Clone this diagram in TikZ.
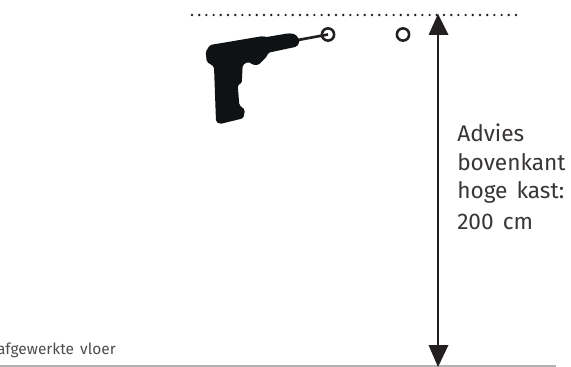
\documentclass[tikz,border=0pt]{standalone}
\usepackage{fontspec}
\setmainfont{Fira Sans}[WordSpace=1.5]
\definecolor{ink}{HTML}{231F20}
\definecolor{drill}{HTML}{0E1214}
\tikzset{
  hole/.style={circle,draw=ink,line width=1.9pt,minimum size=9.2pt,inner sep=0pt,fill=none},
  lab/.style={anchor=base west,inner sep=0pt,font=\fontsize{17pt}{20pt}\selectfont,text=ink!90},
}
\begin{document}
\begin{tikzpicture}[x=0.75pt,y=-0.75pt]
\useasboundingbox (0,0) rectangle (571,367);
\clip (0,0) rectangle (571,367);
% dotted top line
\coordinate (dl) at (192,15);
\coordinate (dr) at (517,15);
\draw[ink,line width=2pt,line cap=round,dash pattern=on 0pt off 5.4pt] (dl) -- (dr);
% floor
\coordinate (fl) at (0,366);
\coordinate (fr) at (556,366);
\draw[black!30,line width=0.8pt] (fl) -- (fr);
% holes
\node[hole] (h1) at (328,34.5) {};
\node[hole] (h2) at (403,34.5) {};
% drill bit
\coordinate (chuck) at (298,40);
\draw[ink,line width=2pt] (chuck) -- (h1.center);
% drill body
\fill[drill,rounded corners=1.2pt]
 (205.7,51.7) -- (210,45) -- (263.3,36) -- (265,37.3) -- (288.3,33.3) -- (295,34)
 -- (299.3,39.3) -- (299.3,42.7) -- (296.7,46.7) -- (268.3,52.7) -- (266.7,56.7)
 -- (258.3,65) -- (253.3,65) -- (248.3,61.7) -- (242.7,65) -- (241.7,83.3)
 -- (237.7,85) -- (239.3,105) -- (245,110) -- (243.3,118.3) -- (220,124)
 -- (216,121.7) -- (214,66.7) -- (206.7,61.7) -- cycle;
% arrow
\coordinate (at) at (438,14);
\coordinate (ab) at (438,367);
\coordinate (as) at (438,34);
\coordinate (ae) at (438,346);
\draw[ink,line width=2pt] (as) -- (ae);
\fill[ink] (at) -- (448.5,35) -- (428.5,35) -- cycle;
\fill[ink] (ab) -- (448.5,345) -- (428.5,345) -- cycle;
% labels
\node[lab] (t1) at (457,142) {Advies};
\node[lab] (t2) at (457,171) {bovenkant};
\node[lab] (t3) at (457,199) {hoge kast:};
\node[lab] (t4) at (457,229) {200 cm};
\node[anchor=base east,inner sep=0pt,font=\fontsize{11.6pt}{14pt}\selectfont,text=black!70] (t5) at (116,354) {afgewerkte vloer};
\end{tikzpicture}
\end{document}
